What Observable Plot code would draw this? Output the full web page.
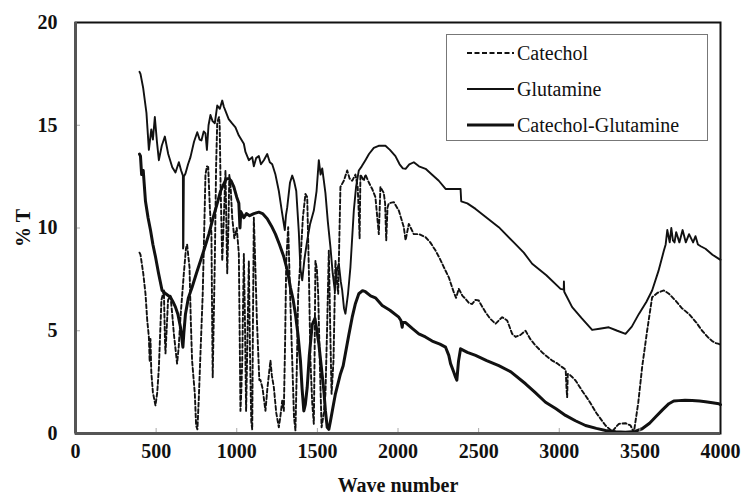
<!DOCTYPE html>
<html>
<head>
<meta charset="utf-8">
<script src="https://cdn.jsdelivr.net/npm/d3@7"></script>
<script src="https://cdn.jsdelivr.net/npm/@observablehq/plot@0.6"></script>
<style>
  html, body { margin: 0; padding: 0; background: #fff; }
  #wrap { position: relative; width: 742px; height: 495px; }
  #legend { position: absolute; left: 446px; top: 34px; width: 262px; height: 107px;
    border: 1px solid #777; background: #fff; box-sizing: border-box;
    font-family: 'Liberation Serif', 'Times New Roman', serif; font-size: 20px; color: #111; }
  .row { position: absolute; left: 20px; height: 24px; display: flex; align-items: center; }
  .row svg { display: block; margin-right: 3px; }
</style>
</head>
<body>
<div id="wrap"></div>
<script>
const seriesNames = ["Catechol", "Glutamine", "Catechol-Glutamine"];
const xTicks = [0, 500, 1000, 1500, 2000, 2500, 3000, 3500, 4000];
const yTicks = [0, 5, 10, 15, 20];

const catecholX = [397,403,420,434,445,455,460,465,470,480,496,507,517,533,548,555,558,565,574,589,600,610,630,640,651,672,685,692,700,707,715,723,740,748,756,765,775,789,800,806,815,823,833,843,848,851,856,864,872,879,890,894,900,910,920,930,936,941,948,954,962,972,985,1000,1013,1018,1023,1028,1034,1044,1050,1058,1065,1075,1082,1090,1096,1100,1106,1112,1125,1140,1147,1160,1178,1190,1209,1218,1230,1245,1261,1270,1282,1292,1300,1307,1319,1330,1344,1355,1364,1372,1381,1395,1410,1426,1437,1447,1457,1468,1478,1483,1488,1497,1505,1515,1526,1540,1550,1560,1571,1580,1588,1600,1612,1620,1629,1643,1664,1685,1700,1716,1736,1750,1757,1762,1767,1788,1798,1820,1840,1860,1881,1891,1912,1920,1927,1935,1943,1974,2005,2036,2047,2067,2098,2130,2171,2200,2233,2260,2284,2315,2346,2360,2377,2400,2419,2440,2460,2480,2501,2520,2543,2570,2605,2625,2646,2677,2708,2729,2760,2791,2820,2853,2900,2956,2990,3018,3040,3045,3049,3053,3059,3080,3101,3140,3184,3230,3287,3328,3350,3370,3411,3442,3463,3490,3514,3545,3576,3610,3649,3680,3721,3760,3804,3850,3886,3920,3948,3970,3990,4000];
const catecholY = [8.8,8.7,7.8,6.8,5.5,4.7,3.5,4.6,3.0,2.0,1.36,2.0,3.2,6.5,6.96,4.5,3.9,5.0,6.5,6.7,5.8,4.85,3.4,4.2,5.66,7.8,9.0,9.2,8.6,8.1,5.5,3.55,1.93,0.39,0.2,1.77,3.9,6.8,10.5,12.6,13.0,12.96,11.0,9.7,5.0,2.74,5.0,8.4,13.0,15.15,15.4,15.0,12.0,8.4,10.5,12.8,10.0,7.8,10.0,12.6,12.0,10.5,9.5,10.0,8.74,5.0,1.1,2.0,3.55,8.74,6.0,1.1,4.0,8.4,4.0,0.6,0.2,5.0,10.5,9.0,5.5,2.6,2.6,2.2,1.1,2.2,3.55,2.8,2.25,1.0,0.3,0.8,1.6,1.1,4.5,8.4,10.04,7.0,3.55,0.8,0.15,3.0,6.8,8.4,10.5,11.66,11.5,8.0,3.55,1.5,0.47,4.0,8.4,8.0,6.8,3.5,0.3,1.0,1.93,5.0,8.9,5.0,1.93,3.55,8.4,7.5,6.8,12.0,12.3,12.8,12.4,12.3,12.6,12.0,10.7,9.5,12.6,12.3,12.6,12.2,11.9,11.5,9.7,12.0,11.7,11.2,9.4,11.0,11.2,11.26,10.85,10.04,9.4,10.2,9.7,9.7,9.55,9.3,8.9,8.5,8.1,7.6,6.87,6.6,7.04,6.7,6.55,6.35,6.3,6.5,6.47,6.2,5.9,5.6,5.34,5.5,5.66,5.5,4.85,4.7,4.8,5.0,4.6,4.28,3.9,3.55,3.4,3.23,3.1,2.2,1.77,2.9,2.9,2.75,2.58,2.1,1.6,1.0,0.39,0.1,0.3,0.47,0.5,0.39,0.06,1.5,3.23,5.0,6.63,6.85,6.96,6.8,6.47,6.1,5.82,5.4,5.0,4.7,4.5,4.4,4.36,4.3];

const glutamineX = [397,403,420,440,455,470,480,492,505,517,535,554,575,600,620,641,655,666,667,669,672,682,698,713,735,755,770,781,795,806,815,825,837,850,864,879,895,910,920,930,950,970,992,1013,1044,1054,1075,1096,1106,1120,1137,1150,1168,1189,1205,1220,1240,1261,1280,1298,1305,1313,1330,1344,1355,1369,1385,1395,1406,1420,1437,1455,1478,1495,1509,1520,1530,1540,1550,1565,1581,1595,1608,1620,1633,1645,1654,1665,1674,1690,1705,1726,1740,1757,1775,1798,1820,1850,1880,1922,1950,1984,2010,2030,2047,2070,2098,2130,2171,2210,2253,2295,2388,2392,2430,2481,2550,2625,2718,2780,2832,2920,3008,3028,3029,3031,3080,3140,3204,3250,3307,3360,3411,3450,3494,3540,3576,3615,3649,3660,3670,3685,3695,3705,3715,3725,3745,3765,3785,3805,3830,3845,3860,3880,3907,3950,3990,4000];
const glutamineY = [17.6,17.5,16.8,15.6,13.8,14.8,14.3,15.4,14.2,13.3,14.0,14.45,13.6,12.96,12.7,13.2,12.8,12.55,9.0,9.1,12.5,12.65,13.1,13.45,14.2,14.66,14.3,14.26,14.7,14.6,13.8,15.0,15.5,15.2,15.1,15.96,15.8,16.2,15.9,15.7,15.3,15.1,14.9,14.5,14.1,13.7,13.3,13.45,13.0,13.4,13.5,13.1,13.3,13.6,13.2,13.1,12.6,11.8,10.8,9.9,10.6,11.0,12.2,12.55,12.3,11.8,9.8,8.0,7.45,8.5,9.4,10.2,10.85,11.8,13.3,12.6,12.9,12.3,11.7,10.3,9.07,7.8,6.96,7.9,8.26,7.4,6.96,6.1,5.83,6.8,8.1,10.85,12.0,12.8,13.0,13.3,13.6,13.9,14.0,14.0,13.8,13.5,13.1,12.9,12.88,13.1,13.2,13.0,12.88,12.6,12.3,11.9,11.9,11.3,11.2,10.93,10.5,10.04,9.3,8.8,8.26,7.7,7.04,7.0,7.4,6.9,6.15,5.6,5.04,5.1,5.17,5.0,4.85,5.2,5.82,6.4,6.96,7.9,8.9,9.2,9.9,9.3,10.0,9.4,9.3,9.8,9.3,9.9,9.3,9.7,9.3,9.6,9.2,9.1,8.99,8.7,8.5,8.45];

const cgX = [397,403,410,420,434,450,465,480,496,515,537,560,589,605,620,635,651,660,666,672,682,700,723,750,775,800,827,850,879,900,920,935,951,965,982,1000,1013,1020,1025,1044,1060,1080,1106,1137,1160,1189,1215,1240,1265,1292,1315,1333,1350,1364,1380,1395,1405,1416,1425,1437,1450,1468,1485,1497,1509,1525,1540,1550,1561,1571,1581,1595,1612,1643,1660,1674,1695,1716,1735,1757,1780,1798,1830,1860,1902,1950,2005,2018,2026,2030,2047,2090,2129,2170,2212,2260,2295,2315,2326,2345,2357,2365,2375,2388,2430,2481,2550,2625,2700,2791,2850,2915,2980,3039,3100,3163,3230,3287,3350,3411,3470,3514,3560,3597,3640,3680,3710,3741,3780,3824,3870,3907,3950,3990,4000];
const cgY = [13.6,13.5,12.6,12.8,11.3,10.5,9.9,9.2,8.6,7.8,6.96,6.8,6.63,6.4,6.15,5.8,5.17,4.6,4.2,4.9,5.82,6.6,7.12,7.8,8.4,9.0,9.7,10.4,11.2,11.8,12.15,12.4,12.4,12.3,12.0,11.5,11.2,10.0,10.8,10.5,10.7,10.6,10.7,10.77,10.7,10.45,10.1,9.7,9.2,8.6,7.9,7.1,6.5,5.8,4.8,3.55,2.2,1.1,1.4,2.25,3.8,5.3,5.6,5.0,4.36,3.2,2.1,1.1,0.3,0.2,0.6,1.2,1.93,2.9,3.3,3.9,4.8,5.66,6.3,6.8,6.95,6.9,6.7,6.6,6.23,6.0,5.66,5.5,5.17,5.4,5.4,5.1,4.85,4.7,4.5,4.35,4.2,3.8,3.4,3.0,2.74,2.6,3.5,4.12,3.95,3.8,3.55,3.3,3.0,2.42,2.0,1.52,1.2,0.88,0.62,0.39,0.25,0.15,0.08,0.06,0.1,0.23,0.5,0.8,1.15,1.45,1.58,1.6,1.62,1.6,1.58,1.55,1.5,1.45,1.4];

const toRows = (name, xs, ys) => xs.map((x, i) => ({series: name, x, y: ys[i]}));
const catechol = toRows(seriesNames[0], catecholX, catecholY);
const glutamine = toRows(seriesNames[1], glutamineX, glutamineY);
const cg = toRows(seriesNames[2], cgX, cgY);

const chart = Plot.plot({
  width: 742,
  height: 495,
  marginLeft: 75,
  marginRight: 22,
  marginTop: 22,
  marginBottom: 62,
  style: {fontFamily: "'Liberation Serif', 'Times New Roman', serif", fontSize: "20px", fontWeight: "bold", color: "#111", background: "#fff"},
  x: {domain: [0, 4000]},
  y: {domain: [0, 20]},
  marks: [
    Plot.line(catechol, {x: "x", y: "y", stroke: "#111", strokeWidth: 1.9, strokeDasharray: "4,2.5"}),
    Plot.line(glutamine, {x: "x", y: "y", stroke: "#111", strokeWidth: 1.9}),
    Plot.line(cg, {x: "x", y: "y", stroke: "#111", strokeWidth: 3}),
    Plot.axisX({ticks: xTicks, tickSize: -5, tickPadding: 15, stroke: "#aaa", fill: "#111", fontSize: 20, fontWeight: "bold",
      label: "Wave number", labelArrow: "none", labelAnchor: "center", labelOffset: 58, tickFormat: d => String(d)}),
    Plot.axisY({ticks: yTicks, tickSize: -5, tickPadding: 23, stroke: "#aaa", fill: "#111", fontSize: 20, fontWeight: "bold",
      label: "% T", labelArrow: "none", labelAnchor: "center", labelOffset: 60, tickFormat: d => String(d)}),
    Plot.frame({stroke: "#111", strokeWidth: 2}),
    Plot.ruleX([0], {stroke: "#555", strokeWidth: 3}),
    Plot.ruleY([0], {stroke: "#555", strokeWidth: 3})
  ]
});

const wrap = document.getElementById("wrap");
wrap.appendChild(chart);

// Legend
const legend = document.createElement("div");
legend.id = "legend";
const styles = [
  {dash: "5,2.5", w: 1.9},
  {dash: null, w: 1.9},
  {dash: null, w: 3.2}
];
seriesNames.forEach((name, i) => {
  const row = document.createElement("div");
  row.className = "row";
  row.style.top = (6 + i * 36) + "px";
  const svg = d3.create("svg").attr("width", 47).attr("height", 24);
  svg.append("line").attr("x1", 0).attr("x2", 47).attr("y1", 12).attr("y2", 12)
    .attr("stroke", "#111").attr("stroke-width", styles[i].w)
    .attr("stroke-dasharray", styles[i].dash);
  row.appendChild(svg.node());
  const span = document.createElement("span");
  span.textContent = name;
  row.appendChild(span);
  legend.appendChild(row);
});
wrap.appendChild(legend);
</script>
</body>
</html>
